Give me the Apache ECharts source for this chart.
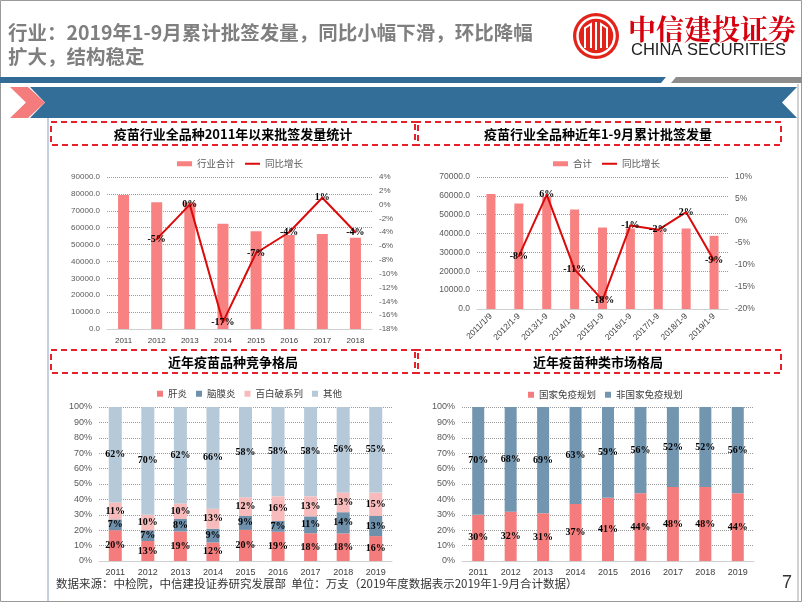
<!DOCTYPE html>
<html>
<head>
<meta charset="utf-8">
<script src="https://cdn.jsdelivr.net/npm/echarts@6/dist/echarts.min.js"></script>
<style>html,body{margin:0;padding:0;background:#fff}#main{width:802px;height:602px}</style>
</head>
<body>
<div id="main"></div>
<script>
// 图1：2011年以来批签发量
const years1 = ['2011', '2012', '2013', '2014', '2015', '2016', '2017', '2018'];
const total1 = [79400, 75000, 75000, 62300, 57900, 55600, 56200, 54000];
const yoy1 = [null, -5, 0, -17, -7, -4, 1, -4];

// 图2：近年1-9月累计
const periods2 = ['2011/1/9', '2012/1-9', '2013/1-9', '2014/1-9', '2015/1-9', '2016/1-9', '2017/1-9', '2018/1-9', '2019/1-9'];
const total2 = [61000, 56000, 59400, 52800, 43200, 42700, 41900, 42700, 38800];
const yoy2 = [null, -8, 6, -11, -18, -1, -2, 2, -9];

// 图3：品种竞争格局 (%)
const years3 = ['2011', '2012', '2013', '2014', '2015', '2016', '2017', '2018', '2019'];
const hepatitis = [20, 13, 19, 12, 20, 19, 18, 18, 16];
const meningitis = [7, 7, 8, 9, 9, 7, 11, 14, 13];
const dtp = [11, 10, 10, 13, 12, 16, 13, 13, 15];
const others = [62, 70, 62, 66, 58, 58, 58, 56, 55];

// 图4：种类市场格局 (%)
const national = [30, 32, 31, 37, 41, 44, 48, 48, 44];
const nonNational = [70, 68, 69, 63, 59, 56, 52, 52, 56];

const PINK = '#F88282';
const RED = '#DA0A0A';
const cn = "'Noto Sans CJK SC', sans-serif";
const latin = "'Liberation Sans', 'Noto Sans CJK SC', sans-serif";

// 百分比堆叠：按合计归一，标签显示原值
function share(arr, all) {
  return arr.map(function (v, i) {
    var s = 0;
    all.forEach(function (a) { s += a[i]; });
    return { value: v / s * 100, raw: v };
  });
}
const all3 = [hepatitis, meningitis, dtp, others];
const all4 = [national, nonNational];

const lineIcon = 'path://M0,0 L30,0 L30,4 L0,4 Z';
const numLabel = {
  show: true,
  position: 'inside',
  fontFamily: "'Liberation Serif', serif",
  fontWeight: 'bold',
  fontSize: 10,
  color: '#000'
};
const rawLabel = Object.assign({}, numLabel, { formatter: function (p) { return p.data.raw + '%'; } });

function valueAxis(grid, min, max, interval, fmt, right, size) {
  return {
    type: 'value', gridIndex: grid, min: min, max: max, interval: interval,
    position: right ? 'right' : 'left',
    axisLine: { show: false }, axisTick: { show: false },
    axisLabel: { fontSize: size || 8, color: '#595959', margin: 7, formatter: fmt },
    splitLine: right ? { show: false } : { lineStyle: { type: 'dotted', color: '#9a9a9a' } }
  };
}
function catAxis(grid, data, extra) {
  return Object.assign({
    type: 'category', gridIndex: grid, data: data,
    axisLine: { lineStyle: { color: '#d0d0d0' } }, axisTick: { show: false },
    axisLabel: { fontSize: 8, color: '#404040', margin: 8 }
  }, extra || {});
}

const myChart = echarts.init(document.getElementById('main'));

const option = {
  animation: false,
  textStyle: { fontFamily: latin },
  grid: [
    { left: 107, right: 430, top: 177, bottom: 273 },
    { left: 477, right: 74, top: 177, bottom: 293 },
    { left: 99, right: 410, top: 407, bottom: 41 },
    { left: 462, right: 48, top: 407, bottom: 41 }
  ],
  xAxis: [
    catAxis(0, years1),
    catAxis(1, periods2, { axisLabel: { fontSize: 8.5, color: '#404040', margin: 6, rotate: 45, interval: 0 } }),
    catAxis(2, years3, { axisLabel: { fontSize: 9, color: '#404040', margin: 7 } }),
    catAxis(3, years3, { axisLabel: { fontSize: 9, color: '#404040', margin: 7 } })
  ],
  yAxis: [
    valueAxis(0, 0, 90000, 10000, function (v) { return v.toFixed(1); }),
    valueAxis(0, -18, 4, 2, '{value}%', true),
    valueAxis(1, 0, 70000, 10000, function (v) { return v.toFixed(1); }, false, 8.5),
    valueAxis(1, -20, 10, 5, '{value}%', true, 8.5),
    valueAxis(2, 0, 100, 10, '{value}%', false, 9),
    valueAxis(3, 0, 100, 10, '{value}%', false, 9)
  ],
  legend: [
    {
      left: 172, top: 154, itemWidth: 15, itemHeight: 5, itemGap: 10,
      textStyle: { fontSize: 9.5, color: '#595959', fontFamily: cn },
      data: [{ name: '行业合计', icon: 'rect' }, { name: '同比增长', icon: lineIcon }]
    },
    {
      left: 548, top: 154, itemWidth: 15, itemHeight: 5, itemGap: 10,
      textStyle: { fontSize: 9.5, color: '#595959', fontFamily: cn },
      data: [{ name: '合计', icon: 'rect' }, { name: '同比增长', icon: lineIcon }]
    },
    {
      left: 152, top: 384, itemWidth: 6, itemHeight: 6, itemGap: 9,
      textStyle: { fontSize: 9.5, color: '#404040', fontFamily: cn },
      data: [
        { name: '肝炎', icon: 'rect' }, { name: '脑膜炎', icon: 'rect' },
        { name: '百白破系列', icon: 'rect' }, { name: '其他', icon: 'rect' }
      ]
    },
    {
      left: 523, top: 385, itemWidth: 6, itemHeight: 6, itemGap: 9,
      textStyle: { fontSize: 9.5, color: '#404040', fontFamily: cn },
      data: [{ name: '国家免疫规划', icon: 'rect' }, { name: '非国家免疫规划', icon: 'rect' }]
    }
  ],
  series: [
    {
      name: '行业合计', type: 'bar', xAxisIndex: 0, yAxisIndex: 0,
      barWidth: 11, itemStyle: { color: PINK }, data: total1
    },
    {
      name: '同比增长', type: 'line', xAxisIndex: 0, yAxisIndex: 1,
      symbol: 'circle', symbolSize: 2, itemStyle: { color: RED },
      lineStyle: { color: RED, width: 2 }, label: Object.assign({}, numLabel, { formatter: '{c}%' }),
      data: yoy1
    },
    {
      name: '合计', type: 'bar', xAxisIndex: 1, yAxisIndex: 2,
      barWidth: 9, itemStyle: { color: PINK }, data: total2
    },
    {
      name: '同比增长', type: 'line', xAxisIndex: 1, yAxisIndex: 3,
      symbol: 'circle', symbolSize: 2, itemStyle: { color: RED },
      lineStyle: { color: RED, width: 2 }, label: Object.assign({}, numLabel, { formatter: '{c}%' }),
      data: yoy2
    },
    // 图3
    {
      name: '肝炎', type: 'bar', stack: 'a', xAxisIndex: 2, yAxisIndex: 4, barWidth: 13,
      itemStyle: { color: '#F47C7C' }, data: share(hepatitis, all3), label: rawLabel
    },
    {
      name: '脑膜炎', type: 'bar', stack: 'a', xAxisIndex: 2, yAxisIndex: 4,
      itemStyle: { color: '#6E90AB' }, data: share(meningitis, all3), label: rawLabel
    },
    {
      name: '百白破系列', type: 'bar', stack: 'a', xAxisIndex: 2, yAxisIndex: 4,
      itemStyle: { color: '#F8BBBB' }, data: share(dtp, all3), label: rawLabel
    },
    {
      name: '其他', type: 'bar', stack: 'a', xAxisIndex: 2, yAxisIndex: 4,
      itemStyle: { color: '#B6C9D8' }, data: share(others, all3), label: rawLabel
    },
    // 图4
    {
      name: '国家免疫规划', type: 'bar', stack: 'b', xAxisIndex: 3, yAxisIndex: 5, barWidth: 12,
      itemStyle: { color: '#F47C7C' }, data: share(national, all4), label: rawLabel
    },
    {
      name: '非国家免疫规划', type: 'bar', stack: 'b', xAxisIndex: 3, yAxisIndex: 5,
      itemStyle: { color: '#7396B0' }, data: share(nonNational, all4), label: rawLabel
    }
  ],
  graphic: [
    // 边框
    { type: 'rect', shape: { x: 0.5, y: 0.5, width: 801, height: 601 }, style: { fill: 'none', stroke: '#9a9a9a', lineWidth: 1 } },
    { type: 'line', shape: { x1: 48, y1: 118, x2: 48, y2: 602 }, style: { stroke: '#8aa2bd', lineWidth: 1 } },
    { type: 'line', shape: { x1: 798, y1: 84, x2: 798, y2: 602 }, style: { stroke: '#a6a6a6', lineWidth: 1 } },
    // 标题
    {
      type: 'text', left: 8, top: 23,
      style: { text: '行业：2019年1-9月累计批签发量，同比小幅下滑，环比降幅', fill: '#7f7f7f', font: 'bold 19.5px ' + cn }
    },
    {
      type: 'text', left: 8, top: 47,
      style: { text: '扩大，结构稳定', fill: '#7f7f7f', font: 'bold 19.5px ' + cn }
    },
    // 标志
    { type: 'circle', shape: { cx: 596, cy: 36, r: 23 }, style: { fill: '#E2231A' } },
    { type: 'circle', shape: { cx: 596, cy: 36, r: 18.5 }, style: { fill: 'none', stroke: '#fff', lineWidth: 2.5 } },
    { type: 'polyline', shape: { points: [[585, 48], [585, 28], [591, 24], [591, 48]] }, style: { fill: 'none', stroke: '#fff', lineWidth: 2 } },
    { type: 'polyline', shape: { points: [[601, 48], [601, 24], [607, 28], [607, 48]] }, style: { fill: 'none', stroke: '#fff', lineWidth: 2 } },
    { type: 'line', shape: { x1: 596, y1: 22, x2: 596, y2: 50 }, style: { stroke: '#fff', lineWidth: 2 } },
    {
      type: 'text', left: 628, top: 15,
      style: { text: '中信建投证券', fill: '#D7000F', font: 'bold 28px ' + "'Noto Serif CJK SC', " + cn }
    },
    {
      type: 'text', left: 631, top: 42,
      style: { text: 'CHINA SECURITIES', fill: '#222', font: '16.5px ' + latin }
    },
    // 分隔条
    { type: 'polygon', shape: { points: [[0, 77], [666, 77], [661, 83], [0, 83]] }, style: { fill: '#326B96' } },
    { type: 'polygon', shape: { points: [[676, 77], [802, 77], [802, 83], [671, 83]] }, style: { fill: '#8c8c8c' } },
    { type: 'polygon', shape: { points: [[30, 87], [797, 87], [782, 102.5], [797, 118], [30, 118], [45, 102.5]] }, style: { fill: '#336E98' } },
    { type: 'polygon', shape: { points: [[10, 87], [28, 87], [45, 102.5], [28, 118], [10, 118], [26, 102.5]] }, style: { fill: '#F47C7C' } },
    // 小标题框
    { type: 'rect', shape: { x: 51, y: 122, width: 367, height: 23 }, style: { fill: 'none', stroke: '#E8202A', lineWidth: 2, lineDash: [6, 4] } },
    { type: 'rect', shape: { x: 415, y: 122, width: 366, height: 23 }, style: { fill: 'none', stroke: '#E8202A', lineWidth: 2, lineDash: [6, 4] } },
    { type: 'rect', shape: { x: 51, y: 350, width: 367, height: 23 }, style: { fill: 'none', stroke: '#E8202A', lineWidth: 2, lineDash: [6, 4] } },
    { type: 'rect', shape: { x: 415, y: 350, width: 366, height: 23 }, style: { fill: 'none', stroke: '#E8202A', lineWidth: 2, lineDash: [6, 4] } },
    {
      type: 'text', x: 233, y: 134,
      style: { text: '疫苗行业全品种2011年以来批签发量统计', fill: '#000', font: 'bold 13px ' + cn, textAlign: 'center', textVerticalAlign: 'middle' }
    },
    {
      type: 'text', x: 598, y: 134,
      style: { text: '疫苗行业全品种近年1-9月累计批签发量', fill: '#000', font: 'bold 13px ' + cn, textAlign: 'center', textVerticalAlign: 'middle' }
    },
    {
      type: 'text', x: 233, y: 362,
      style: { text: '近年疫苗品种竞争格局', fill: '#000', font: 'bold 13px ' + cn, textAlign: 'center', textVerticalAlign: 'middle' }
    },
    {
      type: 'text', x: 598, y: 362,
      style: { text: '近年疫苗种类市场格局', fill: '#000', font: 'bold 13px ' + cn, textAlign: 'center', textVerticalAlign: 'middle' }
    },
    // 来源
    {
      type: 'text', x: 56, y: 584,
      style: { text: '数据来源：中检院，中信建投证券研究发展部  单位：万支（2019年度数据表示2019年1-9月合计数据）', fill: '#333', font: '11.5px ' + cn, textVerticalAlign: 'middle' }
    },
    {
      type: 'text', x: 782, y: 583,
      style: { text: '7', fill: '#333', font: '18px ' + latin, textVerticalAlign: 'middle' }
    }
  ]
};

myChart.setOption(option);
</script>
</body>
</html>
